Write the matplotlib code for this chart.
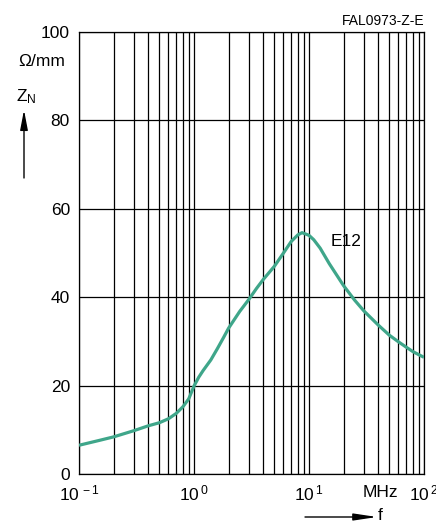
import matplotlib
matplotlib.use("Agg")
import matplotlib.pyplot as plt
from matplotlib.patches import FancyArrowPatch
from matplotlib.ticker import NullFormatter, LogLocator

plt.rcParams["font.family"] = ["Liberation Sans", "DejaVu Sans"]
plt.rcParams["mathtext.fontset"] = "custom"
plt.rcParams["mathtext.rm"] = "Liberation Sans"
plt.rcParams["mathtext.it"] = "Liberation Sans"

# Impedance per length of the E12 material vs. frequency
freq_mhz = [0.1, 0.15, 0.2, 0.3, 0.4, 0.5, 0.6, 0.7, 0.8, 0.9, 1.0, 1.1, 1.2,
            1.4, 1.6, 1.8, 2.0, 2.5, 3.0, 3.5, 4.0, 5.0, 6.0, 7.0, 8.0, 8.7,
            10, 11, 12.5, 15, 20, 25, 30, 40, 50, 60, 70, 80, 90, 100]
z_ohm_per_mm = [6.5, 7.6, 8.4, 9.8, 10.9, 11.6, 12.5, 13.7, 15.2, 17.0, 19.9,
                21.9, 23.4, 25.8, 28.4, 30.8, 33.0, 36.8, 39.5, 42.0, 44.0,
                47.0, 50.0, 52.6, 54.1, 54.6, 54.0, 53.0, 51.1, 47.6, 42.6,
                39.3, 36.9, 33.7, 31.4, 29.9, 28.7, 27.7, 27.0, 26.4]

x_ticks = [0.1, 1, 10, 100]
x_tick_labels = [r"$10^{\,-1}$", r"$10^{\,0}$", r"$10^{\,1}$", r"$10^{\,2}$"]
y_ticks = [0, 20, 40, 60, 80, 100]
series_label = "E12"

W, H = 436, 522
fig = plt.figure(figsize=(W / 100, H / 100), dpi=100)
ax = fig.add_axes([79 / W, 1 - 474 / H, (424 - 79) / W, (474 - 32) / H])

ax.set_xscale("log")
ax.set_xlim(0.1, 100)
ax.set_ylim(0, 100)

ax.plot(freq_mhz, z_ohm_per_mm, color="#3fa68a", lw=2.3, solid_capstyle="butt",
        solid_joinstyle="round", zorder=3)

ax.set_xticks(x_ticks)
ax.set_xticklabels(x_tick_labels)
ax.xaxis.set_minor_locator(LogLocator(base=10, subs=range(2, 10)))
ax.xaxis.set_minor_formatter(NullFormatter())
ax.set_yticks(y_ticks)

ax.grid(True, which="both", axis="x", color="black", lw=0.9)
ax.grid(True, which="major", axis="y", color="black", lw=0.9)
ax.tick_params(which="both", length=0)
ax.tick_params(axis="y", labelsize=12.5, pad=6.5)
ax.tick_params(axis="x", labelsize=12.5, pad=7)
for s in ax.spines.values():
    s.set_linewidth(0.9)
    s.set_color("black")

ax.text(0.728, 0.527, series_label, transform=ax.transAxes, fontsize=12.5,
        ha="left", va="center")
ax.text(42, -0.041, "MHz", transform=ax.get_xaxis_transform(), fontsize=12.5,
        ha="center", va="center")

# axis captions and arrows
fig.text(42 / W, 1 - 62 / H, "Ω/mm", fontsize=12.5, ha="center", va="center")
fig.text(16 / W, 1 - 97 / H, r"Z$_{\rm N}$", fontsize=12.5, ha="left", va="center")
fig.text(424 / W, 1 - 21 / H, "FAL0973-Z-E", fontsize=10, ha="right", va="center")
fig.text(378 / W, 1 - 515 / H, "f", fontsize=12.5, ha="left", va="center")

fig.add_artist(FancyArrowPatch(
    (24 / W, 1 - 178 / H), (24 / W, 1 - 110 / H), transform=fig.transFigure,
    arrowstyle="-|>,head_length=12,head_width=2.3", color="black", lw=1.0,
    mutation_scale=1, shrinkA=0, shrinkB=0))
fig.add_artist(FancyArrowPatch(
    (305 / W, 1 - 517 / H), (377 / W, 1 - 517 / H), transform=fig.transFigure,
    arrowstyle="-|>,head_length=14,head_width=2.1", color="black", lw=1.0,
    mutation_scale=1, shrinkA=0, shrinkB=0))

fig.savefig("out.png", dpi=100)
